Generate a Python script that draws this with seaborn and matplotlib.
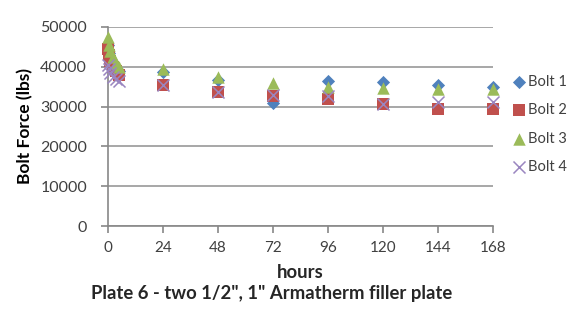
import numpy as np
import pandas as pd
import matplotlib
matplotlib.use("Agg")
import matplotlib.pyplot as plt
import seaborn as sns

hours = [0, 0.5, 1, 2, 3.5, 5, 24, 48, 72, 96, 120, 144, 168]
bolt1 = [45500, 43500, 42000, 40500, 39500, 39000, 38800, 36700, 31000, 36500, 36100, 35500, 34900]
bolt2 = [44500, 43000, 41500, 40000, 39000, 38000, 35500, 33700, 32600, 32000, 30700, 29300, 29300]
bolt3 = [47500, 45500, 44000, 42500, 41000, 40000, 39500, 37500, 35900, 35000, 34700, 34400, 34300]
bolt4 = [40500, 39500, 38500, 37500, 37000, 36500, 35500, 33700, 32900, 32600, 30700, 31100, 31100]
series_names = ["Bolt 1", "Bolt 2", "Bolt 3", "Bolt 4"]
xticks = [0, 24, 48, 72, 96, 120, 144, 168]
yticks = [0, 10000, 20000, 30000, 40000, 50000]

rows = []
for name, vals in zip(series_names, [bolt1, bolt2, bolt3, bolt4]):
    for h, v in zip(hours, vals):
        rows.append({"hours": h, "force": v, "bolt": name})
df = pd.DataFrame(rows)

sns.set_theme(style="white")
plt.rcParams['font.family'] = ['Lato', 'DejaVu Sans']

fig = plt.figure(figsize=(5.69, 3.2), dpi=100)
ax = fig.add_axes([108/569, 1-226/320, (493-108)/569, (226-27)/320])

palette = {"Bolt 1": "#4F81BD", "Bolt 2": "#C0504D", "Bolt 3": "#9BBB59", "Bolt 4": "#9A86C0"}
markers = {"Bolt 1": "D", "Bolt 2": "s", "Bolt 3": "^", "Bolt 4": "x"}
sizes = {"Bolt 1": 45, "Bolt 2": 72, "Bolt 3": 80, "Bolt 4": 75}

for name in series_names:
    sub = df[df.bolt == name]
    if name == "Bolt 4":
        sns.scatterplot(x=sub.hours, y=sub.force, marker="x", s=sizes[name], color=palette[name],
                        linewidth=1.1, label=name, zorder=3, clip_on=False, ax=ax)
    else:
        sns.scatterplot(x=sub.hours, y=sub.force, marker=markers[name], s=sizes[name],
                        color=palette[name], linewidth=0, label=name, zorder=3, clip_on=False, ax=ax)

ax.set_xlim(0, 168)
ax.set_ylim(0, 50000)
ax.set_xticks(xticks)
ax.set_yticks(yticks)
ax.grid(axis="y", color="#A0A0A0", linewidth=1.3)
ax.set_axisbelow(True)
for s in ["top", "right"]:
    ax.spines[s].set_visible(False)
for s in ["left", "bottom"]:
    ax.spines[s].set_color("#888888")
    ax.spines[s].set_linewidth(1.2)
ax.tick_params(axis="y", direction="out", length=5, width=1.2, pad=10,
               color="#888888", labelsize=11.5, labelcolor="#404040", left=True)
ax.tick_params(axis="x", direction="out", length=5, width=1.2, pad=6,
               color="#888888", labelsize=11, labelcolor="#404040", bottom=True)

ax.set_xlabel("")
ax.set_ylabel("Bolt Force (lbs)", fontsize=12.5, fontweight="bold", color="#000000")
ax.yaxis.set_label_coords((33-108)/385, 0.5)
fig.text(300/569, 1-272/320, "hours", ha="center", va="center", fontsize=13.3, fontweight="bold")
fig.text(272/569, 1-293/320, "Plate 6 - two 1/2\", 1\" Armatherm filler plate", ha="center",
         va="center", fontsize=13.3, fontweight="bold")

leg = ax.legend(loc="upper left", bbox_to_anchor=(510/569, 1-75/320), bbox_transform=fig.transFigure,
                frameon=False, fontsize=10.5, labelspacing=0.98, handletextpad=0.0, handlelength=1.2,
                borderaxespad=0, borderpad=0)
for t in leg.get_texts():
    t.set_color("#404040")

fig.savefig("out.png", dpi=100)
